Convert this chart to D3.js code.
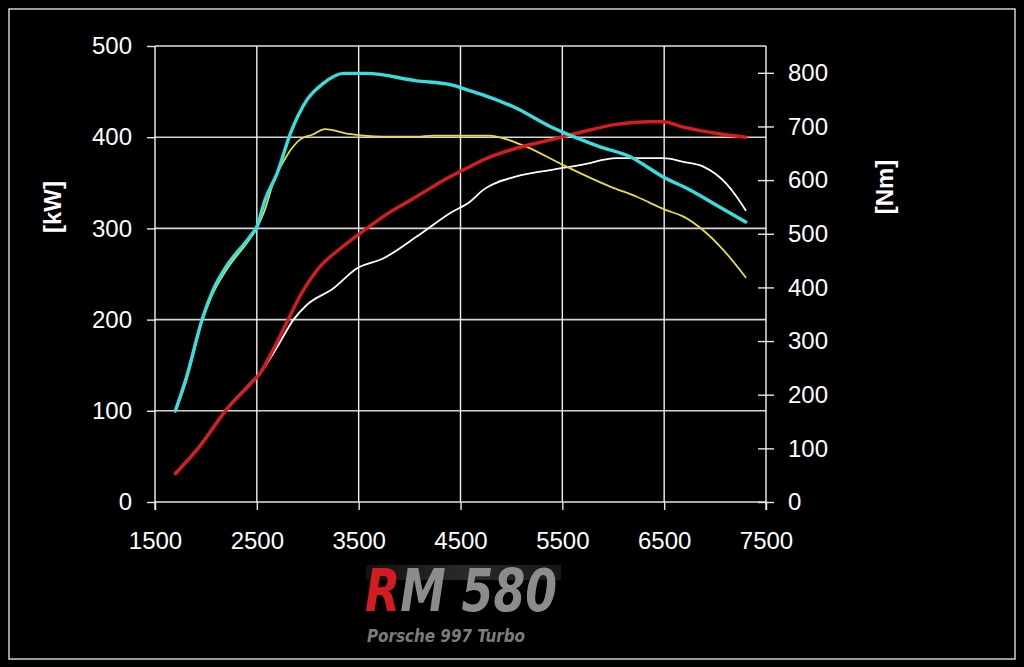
<!DOCTYPE html>
<html>
<head>
<meta charset="utf-8">
<script src="https://cdn.jsdelivr.net/npm/d3@7"></script>
<style>
  html, body { margin: 0; padding: 0; background: #000; }
  svg { display: block; }
</style>
</head>
<body>
<svg id="chart" width="1024" height="667" font-family='"Liberation Sans", Arial, sans-serif'></svg>
<script>
// rpm ticks and axis ticks
const rpmTicks = [1500, 2500, 3500, 4500, 5500, 6500, 7500];
const kwTicks = [0, 100, 200, 300, 400, 500];
const nmTicks = [0, 100, 200, 300, 400, 500, 600, 700, 800];

// power curves [kW] (left axis)
const powerTuned = [
  [1700, 31], [1940, 61], [2200, 101], [2460, 132], [2530, 141], [2660, 167],
  [2790, 196], [2920, 225], [3120, 258], [3320, 278], [3580, 300], [3740, 313],
  [4070, 335], [4400, 357], [4560, 366], [4720, 375], [5050, 388], [5380, 397],
  [5700, 406], [6030, 414], [6360, 417], [6490, 417], [6690, 411], [7020, 404],
  [7300, 400]
];
const powerStock = [
  [1700, 32], [1940, 62], [2200, 102], [2460, 133], [2530, 141], [2700, 170],
  [2860, 200], [2990, 216], [3250, 234], [3480, 256], [3740, 267], [4070, 291],
  [4400, 317], [4590, 329], [4720, 342], [5050, 357], [5380, 364], [5700, 370],
  [6030, 377], [6490, 377], [6690, 373], [6880, 368], [7110, 349], [7210, 335],
  [7300, 320]
];

// torque curves [Nm] (right axis)
const torqueTuned = [
  [1700, 170], [1810, 233], [1970, 345], [2070, 395], [2200, 439], [2430, 494],
  [2500, 513], [2580, 563], [2700, 613], [2830, 687], [2990, 749], [3150, 780],
  [3350, 799], [3580, 799], [4070, 785], [4400, 778], [4590, 767], [4720, 759],
  [5050, 734], [5380, 700], [5610, 681], [5870, 662], [6160, 644], [6490, 606],
  [6750, 582], [6980, 557], [7300, 522]
];
const torqueStock = [
  [1700, 168], [1810, 228], [1960, 335], [2060, 385], [2200, 432], [2430, 490],
  [2500, 510], [2570, 540], [2660, 594], [2790, 644], [2920, 675], [3050, 685],
  [3170, 695], [3410, 686], [3740, 681], [4070, 681], [4230, 683], [4790, 683],
  [4920, 678], [5150, 662], [5510, 628], [5970, 588], [6230, 569], [6520, 544],
  [6690, 532], [6880, 507], [7080, 470], [7300, 419]
];

const svg = d3.select('#chart');

const x = d3.scaleLinear().domain([1500, 7500]).range([155, 766]);
const yKw = d3.scaleLinear().domain([0, 500]).range([502, 46]);
const yNm = d3.scaleLinear().domain([0, 850]).range([502, 46]);

// outer frame
svg.append('rect')
  .attr('x', 9).attr('y', 9).attr('width', 1006).attr('height', 650)
  .attr('fill', 'none').attr('stroke', '#cfcfcf').attr('stroke-width', 1.5);

// horizontal grid
svg.append('g')
  .selectAll('line')
  .data(kwTicks)
  .join('line')
  .attr('x1', x(1500)).attr('x2', x(7500))
  .attr('y1', d => yKw(d)).attr('y2', d => yKw(d))
  .attr('stroke', d => (d === 0 || d === 500) ? '#a8a8a8' : '#d4d4d4')
  .attr('stroke-width', d => (d === 0 || d === 500) ? 2 : 1.6);

// vertical grid
svg.append('g')
  .selectAll('line')
  .data(rpmTicks.slice(1, -1))
  .join('line')
  .attr('x1', d => x(d)).attr('x2', d => x(d))
  .attr('y1', yKw(500)).attr('y2', yKw(0))
  .attr('stroke', '#f2f2f2').attr('stroke-width', 1.4);

function styleAxis(g) {
  g.select('.domain').remove();
  g.selectAll('.tick line').attr('stroke', '#e6e6e6').attr('stroke-width', 1.4);
  g.selectAll('.tick text').attr('fill', '#fff').attr('font-size', 24)
    .attr('font-family', '"Liberation Sans", Arial, sans-serif');
}

// x axis
svg.append('g')
  .attr('transform', `translate(0,${yKw(0)})`)
  .call(d3.axisBottom(x).tickValues(rpmTicks).tickFormat(d3.format('d')).tickSize(8).tickPadding(22))
  .call(styleAxis);

// left axis
svg.append('g')
  .attr('transform', `translate(${x(1500)},0)`)
  .call(d3.axisLeft(yKw).tickValues(kwTicks).tickSize(8).tickPadding(15))
  .call(styleAxis);

// right axis
const rightAxis = svg.append('g')
  .attr('transform', `translate(${x(7500)},0)`)
  .call(d3.axisRight(yNm).tickValues(nmTicks).tickSize(8).tickPadding(14))
  .call(styleAxis);
rightAxis.selectAll('.tick line').attr('x1', -8);

// axis lines
svg.append('line')
  .attr('x1', x(1500)).attr('x2', x(1500)).attr('y1', yKw(500)).attr('y2', yKw(0) + 8)
  .attr('stroke', '#f2f2f2').attr('stroke-width', 1.4);
svg.append('line')
  .attr('x1', x(7500)).attr('x2', x(7500)).attr('y1', yKw(500)).attr('y2', yKw(0) + 8)
  .attr('stroke', '#f2f2f2').attr('stroke-width', 1.4);

// axis titles
svg.append('text')
  .attr('transform', 'translate(52,207) rotate(-90)')
  .attr('text-anchor', 'middle').attr('dominant-baseline', 'central')
  .attr('fill', '#fff').attr('font-size', 24).attr('font-weight', 'bold')
  .text('[kW]');
svg.append('text')
  .attr('transform', 'translate(884,187) rotate(-90)')
  .attr('text-anchor', 'middle').attr('dominant-baseline', 'central')
  .attr('fill', '#fff').attr('font-size', 24).attr('font-weight', 'bold')
  .text('[Nm]');

// curves
const kwLine = d3.line().x(d => x(d[0])).y(d => yKw(d[1])).curve(d3.curveMonotoneX);
const nmLine = d3.line().x(d => x(d[0])).y(d => yNm(d[1])).curve(d3.curveMonotoneX);

const curves = [
  { data: powerStock, gen: kwLine, color: '#ffffff', width: 1.8 },
  { data: torqueStock, gen: nmLine, color: '#e6dc3c', width: 1.8 },
  { data: powerTuned, gen: kwLine, color: '#d61c1c', width: 3.4 },
  { data: torqueTuned, gen: nmLine, color: '#36dede', width: 3.4 }
];

svg.append('g')
  .selectAll('path')
  .data(curves)
  .join('path')
  .attr('d', d => d.gen(d.data))
  .attr('fill', 'none')
  .attr('stroke', d => d.color)
  .attr('stroke-width', d => d.width)
  .attr('stroke-linejoin', 'round')
  .attr('stroke-linecap', 'round');

// logo
const defs = svg.append('defs');
const grad = defs.append('linearGradient').attr('id', 'bar');
grad.append('stop').attr('offset', '0%').attr('stop-color', '#111');
grad.append('stop').attr('offset', '50%').attr('stop-color', '#2a2a2a');
grad.append('stop').attr('offset', '100%').attr('stop-color', '#181818');

// red "R", grey rest, as one text
const logoFill = defs.append('linearGradient').attr('id', 'logoFill')
  .attr('gradientUnits', 'userSpaceOnUse')
  .attr('x1', 365).attr('x2', 557).attr('y1', 0).attr('y2', 0);
logoFill.append('stop').attr('offset', 0.17).attr('stop-color', '#d11c22');
logoFill.append('stop').attr('offset', 0.17).attr('stop-color', '#8c8c8c');

svg.append('rect')
  .attr('x', 366).attr('y', 565).attr('width', 195).attr('height', 15)
  .attr('fill', 'url(#bar)');

const logoFont = '"DejaVu Sans Condensed", "DejaVu Sans", sans-serif';
svg.append('text')
  .attr('x', 365).attr('y', 611)
  .attr('font-family', logoFont)
  .attr('font-size', 58).attr('font-weight', 'bold').attr('font-style', 'italic')
  .attr('fill', 'url(#logoFill)')
  .attr('textLength', 192).attr('lengthAdjust', 'spacingAndGlyphs')
  .text('RM 580');

svg.append('text')
  .attr('x', 367).attr('y', 642)
  .attr('font-family', logoFont)
  .attr('font-size', 18).attr('font-weight', 'bold').attr('font-style', 'italic')
  .attr('fill', '#7c7c7c')
  .attr('textLength', 158).attr('lengthAdjust', 'spacingAndGlyphs')
  .text('Porsche 997 Turbo');
</script>
</body>
</html>
